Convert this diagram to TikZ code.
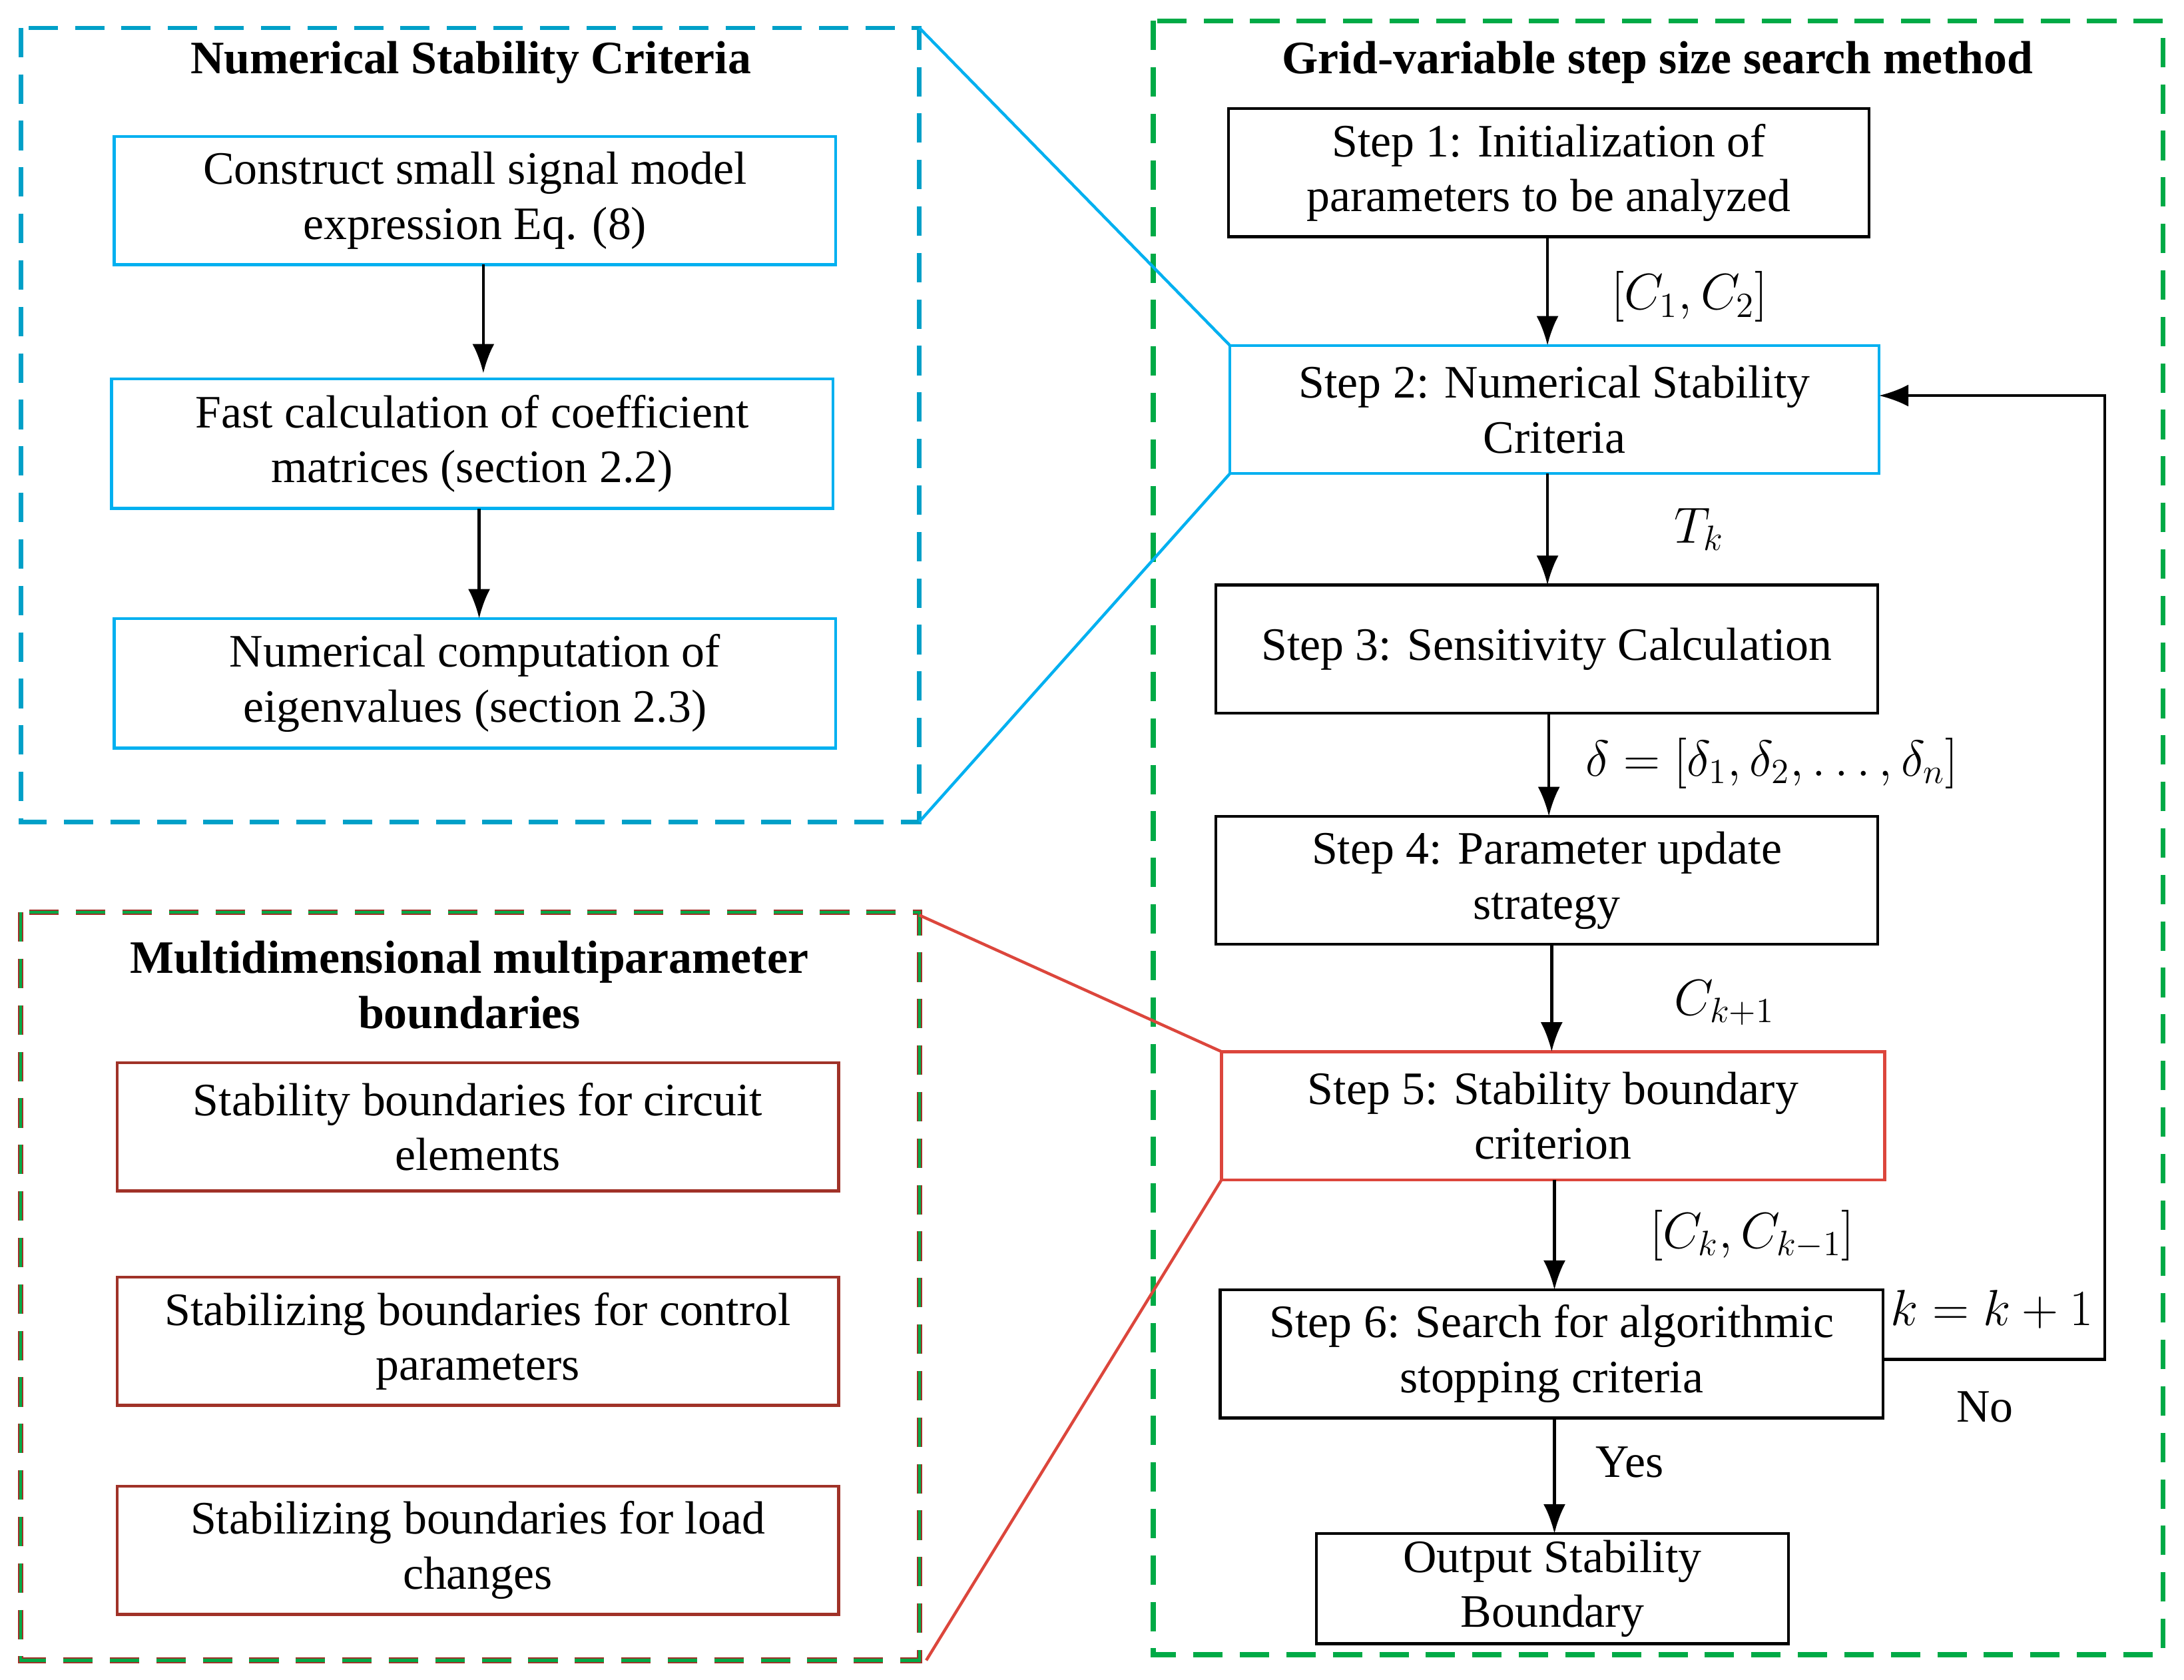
\documentclass[tikz,border=0pt]{standalone}
\usepackage{fontspec}
\setmainfont{Liberation Serif}
\usetikzlibrary{arrows.meta}
\definecolor{cy}{RGB}{0,176,240}
\definecolor{gr}{RGB}{0,170,70}
\definecolor{rd}{RGB}{220,70,60}
\definecolor{dr}{RGB}{160,50,40}
\definecolor{tl}{RGB}{0,160,200}
\begin{document}
\begin{tikzpicture}[x=0.02cm,y=-0.02cm,
  bx/.style={draw,line width=1.2pt,align=center,font=\fontsize{19}{22.5}\selectfont,inner sep=0pt},
  ar/.style={-{Latex[length=12pt,width=9pt]},line width=1.2pt},
  lb/.style={font=\fontsize{21}{24}\selectfont},
  dsh/.style={dash pattern=on 12pt off 7pt,line width=1.8pt}]
\useasboundingbox (0,0) rectangle (1568,1206);
% containers
\draw[dsh,tl] (15,20) rectangle (660,590);
\draw[dash pattern=on 12pt off 7pt,line width=2.2pt,dr] (15,655) rectangle (660,1192);
\draw[dash pattern=on 12pt off 7pt,line width=1.1pt,gr] (15,655) rectangle (660,1192);
\draw[dsh,gr,line width=2pt] (828,15) rectangle (1553,1188);
\node[font=\fontsize{19}{22.5}\selectfont\bfseries] (t1) at (338,45) {Numerical Stability Criteria};
\node[font=\fontsize{19}{22.5}\selectfont\bfseries,align=center] (t2) at (337,707) {Multidimensional multiparameter\\boundaries};
\node[font=\fontsize{19}{22.5}\selectfont\bfseries] (t3) at (1190,45) {Grid-variable step size search method};
% left top
\node[bx,cy,text=black,minimum width=518*0.02cm,minimum height=92*0.02cm] (a1) at (341,144) {Construct small signal model\\expression Eq. (8)};
\node[bx,cy,text=black,minimum width=518*0.02cm,minimum height=93*0.02cm] (a2) at (339,318.5) {Fast calculation of coefficient\\matrices (section 2.2)};
\node[bx,cy,text=black,minimum width=518*0.02cm,minimum height=93*0.02cm] (a3) at (341,490.5) {Numerical computation of\\eigenvalues (section 2.3)};
\draw[ar] (347,190) -- (347,268);
\draw[ar] (344,365) -- (344,444);
% left bottom
\node[bx,dr,text=black,minimum width=518*0.02cm,minimum height=92*0.02cm] (b1) at (343,809) {Stability boundaries for circuit\\elements};
\node[bx,dr,text=black,minimum width=518*0.02cm,minimum height=92*0.02cm] (b2) at (343,963) {Stabilizing boundaries for control\\parameters};
\node[bx,dr,text=black,minimum width=518*0.02cm,minimum height=92*0.02cm] (b3) at (343,1113) {Stabilizing boundaries for load\\changes};
% right
\node[bx,minimum width=460*0.02cm,minimum height=92*0.02cm] (s1) at (1112,124) {Step 1: Initialization of\\parameters to be analyzed};
\node[bx,cy,text=black,minimum width=466*0.02cm,minimum height=92*0.02cm] (s2) at (1116,294) {Step 2: Numerical Stability\\Criteria};
\node[bx,minimum width=475*0.02cm,minimum height=92*0.02cm] (s3) at (1110.5,466) {Step 3: Sensitivity Calculation};
\node[bx,minimum width=475*0.02cm,minimum height=92*0.02cm] (s4) at (1110.5,632) {Step 4: Parameter update\\strategy};
\node[bx,rd,text=black,minimum width=476*0.02cm,minimum height=92*0.02cm] (s5) at (1115,801) {Step 5: Stability boundary\\criterion};
\node[bx,minimum width=476*0.02cm,minimum height=92*0.02cm] (s6) at (1114,972) {Step 6: Search for algorithmic\\stopping criteria};
\node[bx,minimum width=339*0.02cm,minimum height=79*0.02cm] (s7) at (1114.5,1140.5) {Output Stability\\Boundary};
\draw[ar] (1111,170) -- (1111,248);
\draw[ar] (1111,340) -- (1111,420);
\draw[ar] (1112,512) -- (1112,586);
\draw[ar] (1114,678) -- (1114,755);
\draw[ar] (1116,847) -- (1116,926);
\draw[ar] (1116,1018) -- (1116,1101);
\coordinate (f1) at (1511,976); \coordinate (f2) at (1511,284);
\draw[ar] (1352,976) -- (f1) -- (f2) -- (1349,284);
\node[lb] (l1) at (1213,213) {$[C_1,C_2]$};
\node[lb] (l2) at (1220,380) {$T_k$};
\node[lb] (l3) at (1272,548) {$\delta=[\delta_1,\delta_2,\ldots,\delta_n]$};
\node[lb] (l4) at (1238,720) {$C_{k+1}$};
\node[lb] (l5) at (1258,887) {$[C_k,C_{k-1}]$};
\node[font=\fontsize{19}{22.5}\selectfont] (l6) at (1170,1050) {Yes};
\node[lb] (l7) at (1430,940) {$k=k+1$};
\node[font=\fontsize{19}{22.5}\selectfont] (l8) at (1425,1010) {No};
% zoom lines
\draw[cy,line width=1.2pt] (660,20) -- (883,248);
\draw[cy,line width=1.2pt] (660,590) -- (883,340);
\draw[rd,line width=1.2pt] (660,657) -- (877,755);
\draw[rd,line width=1.2pt] (665,1192) -- (877,847);
\end{tikzpicture}
\end{document}
